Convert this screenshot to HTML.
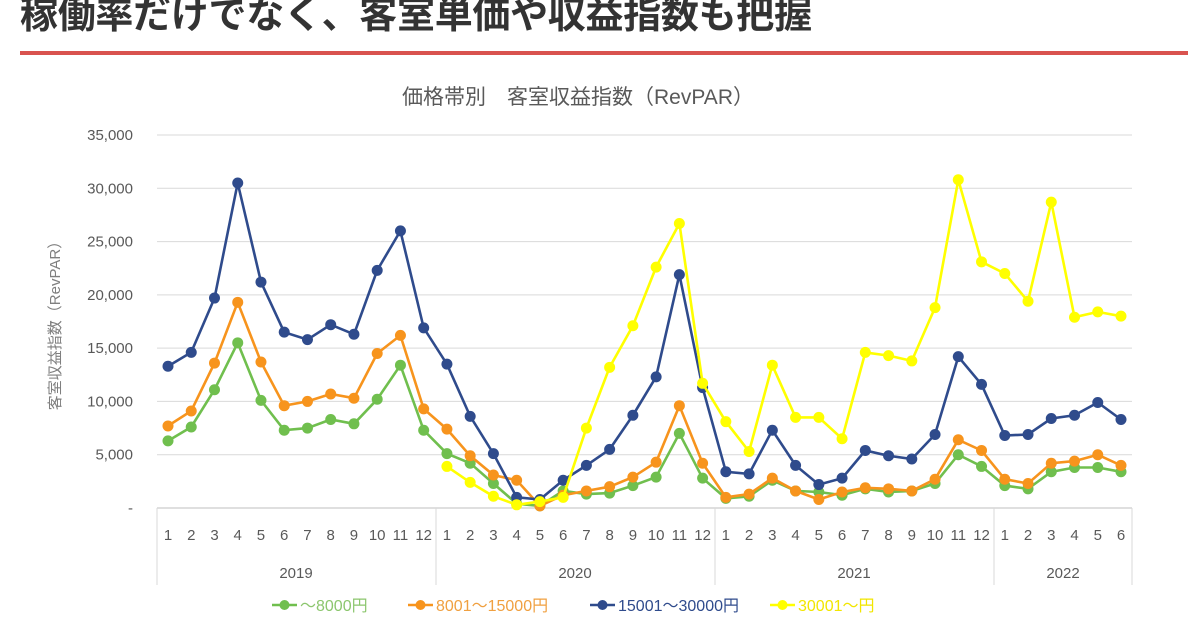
<!DOCTYPE html>
<html><head><meta charset="utf-8">
<style>
html,body{margin:0;padding:0;background:#fff;width:1200px;height:630px;overflow:hidden;}
.t{position:absolute;left:20px;top:-16px;font:bold 38px "Liberation Sans","Noto Sans CJK JP",sans-serif;color:#333;letter-spacing:-0.3px;white-space:nowrap;}
.bar{position:absolute;left:20px;top:51px;width:1168px;height:4px;background:#d9534f;}
svg{position:absolute;left:0;top:0;}
</style></head><body>
<div class="t">稼働率だけでなく、客室単価や収益指数も把握</div>
<div class="bar"></div>
<svg id="s" width="1200" height="630" font-family="Liberation Sans, Noto Sans CJK JP, sans-serif"></svg>
<script>
const s=document.getElementById('s');let h='';
const y0=508,py=373/35000,x0=168,dx=(1121-168)/41;
const Y=v=>y0-v*py,X=i=>x0+i*dx;
h+='<text x="578" y="104" font-size="21" fill="#595959" text-anchor="middle">価格帯別　客室収益指数（RevPAR）</text>';
for(let k=0;k<=7;k++){const y=Y(k*5000);
 h+=`<line x1="157" x2="1132" y1="${y}" y2="${y}" stroke="${k?'#d9d9d9':'#bfbfbf'}"/>`;
 h+=`<text x="133" y="${y+5}" font-size="15" fill="#595959" text-anchor="end">${k?(k*5000).toLocaleString('en-US'):'-'}</text>`;}
h+='<text transform="translate(60,322) rotate(-90)" font-size="15" fill="#7f7f7f" text-anchor="middle">客室収益指数（RevPAR）</text>';
[157,436,715,994,1132].forEach(x=>h+=`<line x1="${x}" x2="${x}" y1="508" y2="585" stroke="#d9d9d9"/>`);
for(let i=0;i<42;i++){h+=`<text x="${X(i)}" y="540" font-size="15" fill="#595959" text-anchor="middle">${i%12+1}</text>`;}
[[296,'2019'],[575,'2020'],[854,'2021'],[1063,'2022']].forEach(a=>h+=`<text x="${a[0]}" y="578" font-size="15" fill="#595959" text-anchor="middle">${a[1]}</text>`);
const G=[6300,7600,11100,15500,10100,7300,7500,8300,7900,10200,13400,7300,5100,4200,2300,400,200,1600,1300,1400,2100,2900,7000,2800,900,1100,2600,1600,1500,1200,1800,1500,1600,2300,5000,3900,2100,1800,3400,3800,3800,3400];
const O=[7700,9100,13600,19300,13700,9600,10000,10700,10300,14500,16200,9300,7400,4900,3100,2600,200,1200,1600,2000,2900,4300,9600,4200,1000,1300,2800,1600,800,1500,1900,1800,1600,2700,6400,5400,2700,2300,4200,4400,5000,4000];
const B=[13300,14600,19700,30500,21200,16500,15800,17200,16300,22300,26000,16900,13500,8600,5100,1000,800,2600,4000,5500,8700,12300,21900,11300,3400,3200,7300,4000,2200,2800,5400,4900,4600,6900,14200,11600,6800,6900,8400,8700,9900,8300];
const Yl=[3900,2400,1100,300,600,1000,7500,13200,17100,22600,26700,11700,8100,5300,13400,8500,8500,6500,14600,14300,13800,18800,30800,23100,22000,19400,28700,17900,18400,18000];
function ser(d,off,c){let p=d.map((v,i)=>X(i+off).toFixed(1)+','+Y(v).toFixed(1)).join(' ');
 h+=`<polyline points="${p}" fill="none" stroke="${c}" stroke-width="2.6"/>`;
 d.forEach((v,i)=>h+=`<circle cx="${X(i+off)}" cy="${Y(v)}" r="5.5" fill="${c}"/>`);}
ser(G,0,'#70bf4e');ser(O,0,'#f7941d');ser(B,0,'#2f4b8c');ser(Yl,12,'#ffff00');
[[272,'#70bf4e','〜8000円','#8cc66e'],[408,'#f7941d','8001〜15000円','#f0a040'],[590,'#2f4b8c','15001〜30000円','#2f4b8c'],[770,'#ffff00','30001〜円','#f2e600']].forEach(a=>{
 h+=`<line x1="${a[0]}" x2="${a[0]+25}" y1="605" y2="605" stroke="${a[1]}" stroke-width="2.6"/><circle cx="${a[0]+12.5}" cy="605" r="5" fill="${a[1]}"/>`;
 h+=`<text x="${a[0]+28}" y="611" font-size="16" fill="${a[3]}">${a[2]}</text>`;});
s.innerHTML=h;
</script>
</body></html>
